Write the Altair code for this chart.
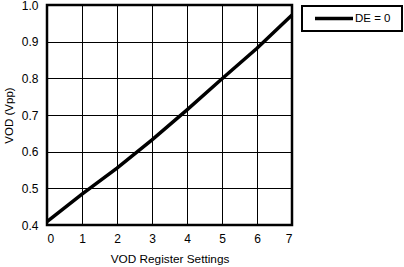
import altair as alt
import pandas as pd

settings = [0, 1, 2, 3, 4, 5, 6, 7]
vod = [0.409, 0.484, 0.555, 0.632, 0.714, 0.799, 0.882, 0.973]
series_name = "DE = 0"
y_ticks = [0.4, 0.5, 0.6, 0.7, 0.8, 0.9, 1.0]

df = pd.DataFrame({"x": settings, "y": vod, "s": [series_name] * len(settings)})
leg = pd.DataFrame({"s": [series_name]})

font = "Liberation Sans"

line = alt.Chart(df).mark_line(strokeWidth=3.5, color="black").encode(
    x=alt.X("x:Q", scale=alt.Scale(domain=[0, 7], nice=False),
            axis=alt.Axis(title="VOD Register Settings", values=settings,
                          format="d", grid=True, gridColor="black", gridWidth=1, gridOpacity=1,
                          ticks=False, domain=False, labelPadding=8, titlePadding=9,
                          labelOverlap=False,
                          labelFont=font, titleFont=font, labelFontSize=12, titleFontSize=11.8,
                          titleFontWeight="normal", labelColor="black", titleColor="black")),
    y=alt.Y("y:Q", scale=alt.Scale(domain=[0.4, 1.0], nice=False, zero=False),
            axis=alt.Axis(title="VOD (Vpp)", values=y_ticks,
                          format=".1f", grid=True, gridColor="black", gridWidth=1, gridOpacity=1,
                          ticks=False, domain=False, labelPadding=9, titlePadding=7,
                          labelOverlap=False,
                          labelFont=font, titleFont=font, labelFontSize=12, titleFontSize=11.5,
                          titleFontWeight="normal", labelColor="black", titleColor="black")),
    detail="s:N",
)

legend_box = alt.Chart(leg).mark_rect(fill="white", stroke="black", strokeWidth=2, clip=False).encode(
    x=alt.value(255), x2=alt.value(355), y=alt.value(1), y2=alt.value(26), detail="s:N"
)
legend_line = alt.Chart(leg).mark_rule(color="black", strokeWidth=3.5, clip=False).encode(
    x=alt.value(268), x2=alt.value(306), y=alt.value(13.5), detail="s:N"
)
legend_text = alt.Chart(leg).mark_text(align="left", baseline="middle", font=font, fontSize=11.5,
                                       color="black", clip=False).encode(
    x=alt.value(308), y=alt.value(14), text="s:N"
)

chart = alt.layer(line, legend_box, legend_line, legend_text).properties(
    width=245, height=220
).configure_view(
    stroke="black", strokeWidth=2.5
).properties(
    autosize=alt.AutoSizeParams(type="none"),
    padding={"left": 47, "top": 5, "right": 112, "bottom": 42},
    background="white",
)

chart.save("out.html", embed_options={"renderer": "svg", "actions": False})
